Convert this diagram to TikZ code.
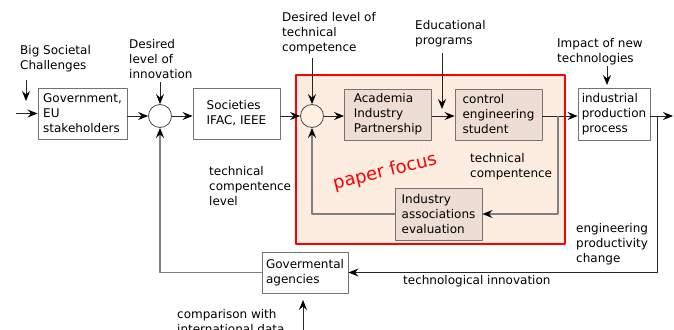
\documentclass[tikz,border=0pt]{standalone}
\usepackage{fontspec}
\setmainfont{DejaVu Sans}
\usetikzlibrary{arrows.meta}
\definecolor{focusfill}{HTML}{FDECE0}
\definecolor{boxfill}{HTML}{EDDDD2}
\begin{document}
\begin{tikzpicture}[x=1pt,y=-1pt,>={Stealth[length=10pt,width=8pt,inset=3.5pt,color=black]},
	font=\fontsize{12}{15}\selectfont, line join=round,
	blk/.style={draw=black!55, line width=0.9pt, fill=white, align=left},
	fbox/.style={blk, fill=boxfill, minimum width=87, minimum height=51},
	sumpt/.style={circle, draw=black!70, line width=0.8pt, fill=white, minimum size=23pt, inner sep=0pt},
	lbl/.style={anchor=north west, inner sep=0pt, align=left},
	con/.style={->, draw=black!85, line width=1pt},
	fb/.style={->, draw=black!50, line width=1.4pt}]
	\useasboundingbox (0,0) rectangle (674,329);
	% paper focus area
	\node[draw=red, line width=2pt, fill=focusfill, minimum width=269, minimum height=169, inner sep=0pt] (focus) at (430.5,159.5) {};
	\node[text=red, rotate=14, font=\fontsize{18}{20}\selectfont] (pf) at (385,172) {paper focus};
	% blocks
	\node[blk, minimum width=89, minimum height=51] (gov) at (82.5,113.5) {Government,\\EU\\stakeholders};
	\node[sumpt] (s1) at (160,116) {};
	\node[blk, minimum width=87, minimum height=51] (soc) at (236.5,113.5) {Societies\\IFAC, IEEE};
	\node[sumpt, fill=focusfill!70!orange!30] (s2) at (312,116) {};
	\node[fbox] (aip) at (388,114.5) {Academia\\Industry\\Partnership};
	\node[fbox] (ces) at (498.5,114.5) {control\\engineering\\student};
	\node[fbox, minimum height=52] (iae) at (438.5,214) {Industry\\associations\\evaluation};
	\node[blk, minimum width=72, minimum height=52] (ipp) at (614,114) {industrial\\production\\process};
	\node[blk, minimum width=86, minimum height=41] (gva) at (305,272.5) {Govermental\\agencies};
	% labels
	\node[lbl] (bsc) at (20,45) {Big Societal\\Challenges};
	\node[lbl] (dli) at (129,39) {Desired\\level of\\innovation};
	\node[lbl] (dtc) at (282,12) {Desired level of\\technical\\competence};
	\node[lbl] (edp) at (415,20) {Educational\\programs};
	\node[lbl] (int) at (557,38.5) {Impact of new\\technologies};
	\node[lbl] (tcp) at (470,153) {technical\\compentence};
	\node[lbl] (tcl) at (209,166) {technical\\compentence\\level};
	\node[lbl] (epc) at (576,223) {engineering\\productivity\\change};
	\node[lbl] (tin) at (403,275) {technological innovation};
	\node[lbl] (cid) at (177,309) {comparison with\\international data};
	% free ends
	\coordinate (in1) at (16,113.5);
	\coordinate (a0) at (26,80); \coordinate (h0) at (26,101);
	\coordinate (a1) at (160,82);
	\coordinate (a2) at (312,58);
	\coordinate (a3) at (442,53); \coordinate (h3) at (442,109);
	\coordinate (a4) at (607,66); \coordinate (h4) at (607,85);
	\coordinate (a5) at (303,335); \coordinate (h5) at (303,300);
	\coordinate (out) at (673,116);
	\coordinate (b1) at (558,116);
	\coordinate (b2) at (657,116);
	% forward path
	\draw[con] (in1) -- (gov.west);
	\draw[con] (gov.east |- s1) -- (s1);
	\draw[con] (s1) -- (soc.west |- s1);
	\draw[con] (soc.east |- s2) -- (s2);
	\draw[con] (s2) -- (aip.west |- s2);
	\draw[con] (aip.east |- s2) -- (ces.west |- s2);
	\draw[con] (ces.east |- s2) -- (ipp.west |- s2);
	\draw[con] (ipp.east |- s2) -- (out);
	% inputs
	\draw[con] (a0) -- (h0);
	\draw[con] (a1) -- (s1);
	\draw[con] (a2) -- (s2);
	\draw[con] (a3) -- (h3);
	\draw[con] (a4) -- (h4);
	\draw[con] (a5) -- (h5);
	% feedback
	\draw[fb] (b1) |- (iae.east);
	\draw[fb] (iae.west) -| (s2.south);
	\draw[con] (b2) |- (gva.east);
	\draw[fb] (gva.west) -| (s1.south);
\end{tikzpicture}
\end{document}
